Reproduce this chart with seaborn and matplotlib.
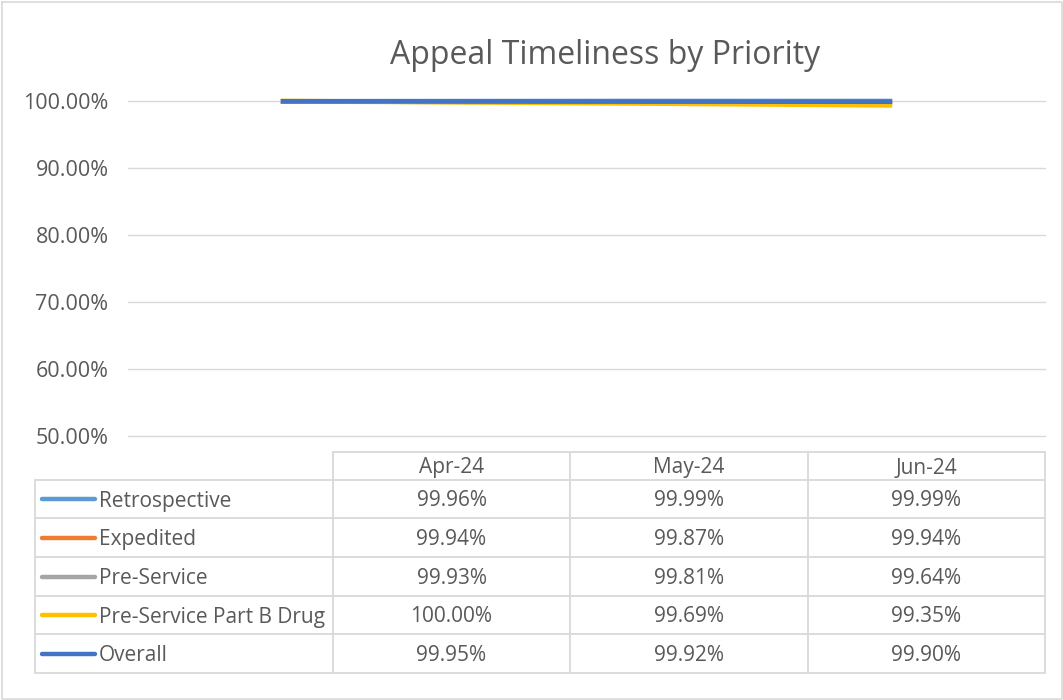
import pandas as pd
import numpy as np
import matplotlib.pyplot as plt
import seaborn as sns

# chart data
months = ["Apr-24", "May-24", "Jun-24"]
series = ["Retrospective", "Expedited", "Pre-Service", "Pre-Service Part B Drug", "Overall"]
retrospective = [99.96, 99.99, 99.99]
expedited = [99.94, 99.87, 99.94]
pre_service = [99.93, 99.81, 99.64]
part_b_drug = [100.00, 99.69, 99.35]
overall = [99.95, 99.92, 99.90]
colors = ["#5B9BD5", "#ED7D31", "#A5A5A5", "#FFC000", "#4472C4"]

values = [retrospective, expedited, pre_service, part_b_drug, overall]
rows = []
for name, vals in zip(series, values):
    for i, v in enumerate(vals):
        rows.append({"month": i, "series": name, "value": v / 100})
df = pd.DataFrame(rows)

sns.set_style("white")
plt.rcParams["font.family"] = ["Open Sans", "DejaVu Sans"]
text_color = "#595959"
grid_color = "#D9D9D9"

W, H = 1063, 700
fig = plt.figure(figsize=(W / 100, H / 100), dpi=100)

# plot area in pixel coordinates
left, right, top, bottom = 128, 1045, 101, 436
ax = fig.add_axes([left / W, 1 - bottom / H, (right - left) / W, (bottom - top) / H])
sns.lineplot(data=df, x="month", y="value", hue="series", hue_order=series,
             palette=colors, linewidth=3.4, legend=False, ax=ax, clip_on=False,
             solid_capstyle="butt")
ax.set_xlim(-0.5, 2.5)
ax.set_ylim(0.5, 1.0)
ax.set_yticks(np.arange(0.5, 1.01, 0.1))
ax.set_yticklabels([f"{t * 100:.2f}%" for t in np.arange(0.5, 1.01, 0.1)],
                   color=text_color, fontsize=15.5)
ax.tick_params(axis="y", length=0, pad=14)
ax.set_xticks([])
ax.set_xlabel("")
ax.set_ylabel("")
for s in ax.spines.values():
    s.set_visible(False)
ax.grid(axis="y", color=grid_color, linewidth=1)
for g in ax.yaxis.get_gridlines():
    g.set_clip_on(False)
ax.set_axisbelow(True)

# overlay for title, data table and border
ov = fig.add_axes([0, 0, 1, 1], zorder=-1)
ov.set_xlim(0, W)
ov.set_ylim(H, 0)
ov.axis("off")
ov.plot([2, W - 1, W - 1, 2, 2], [2, 2, H - 1, H - 1, 2], color=grid_color, lw=1.2)
fig.text(605 / W, 1 - 55 / H, "Appeal Timeliness by Priority", ha="center", va="center",
         fontsize=23, color=text_color)

col_x = [35, 333, 570, 808, 1045]
row_y = [452, 480, 518, 557, 596, 634, 673]
lw = 1.3
# header row borders
ov.plot([333, 1045], [452, 452], color=grid_color, lw=lw)
for x in col_x[1:]:
    ov.plot([x, x], [452, 673], color=grid_color, lw=lw)
ov.plot([35, 35], [480, 673], color=grid_color, lw=lw)
for y in row_y[1:]:
    ov.plot([35, 1045], [y, y], color=grid_color, lw=lw)

fs = 15
for j, m in enumerate(months):
    ov.text((col_x[j + 1] + col_x[j + 2]) / 2, 468, m, ha="center", va="center",
            fontsize=fs, color=text_color)
for i, (name, vals, c) in enumerate(zip(series, values, colors)):
    yc = (row_y[i + 1] + row_y[i + 2]) / 2
    ov.plot([42, 95], [yc, yc], color=c, lw=3.2, solid_capstyle="round")
    ov.text(99, yc + 2, name, ha="left", va="center", fontsize=fs, color=text_color)
    for j, v in enumerate(vals):
        ov.text((col_x[j + 1] + col_x[j + 2]) / 2, yc + 2, f"{v:.2f}%", ha="center",
                va="center", fontsize=fs, color=text_color)

fig.savefig("out.png", dpi=100, facecolor="white")
